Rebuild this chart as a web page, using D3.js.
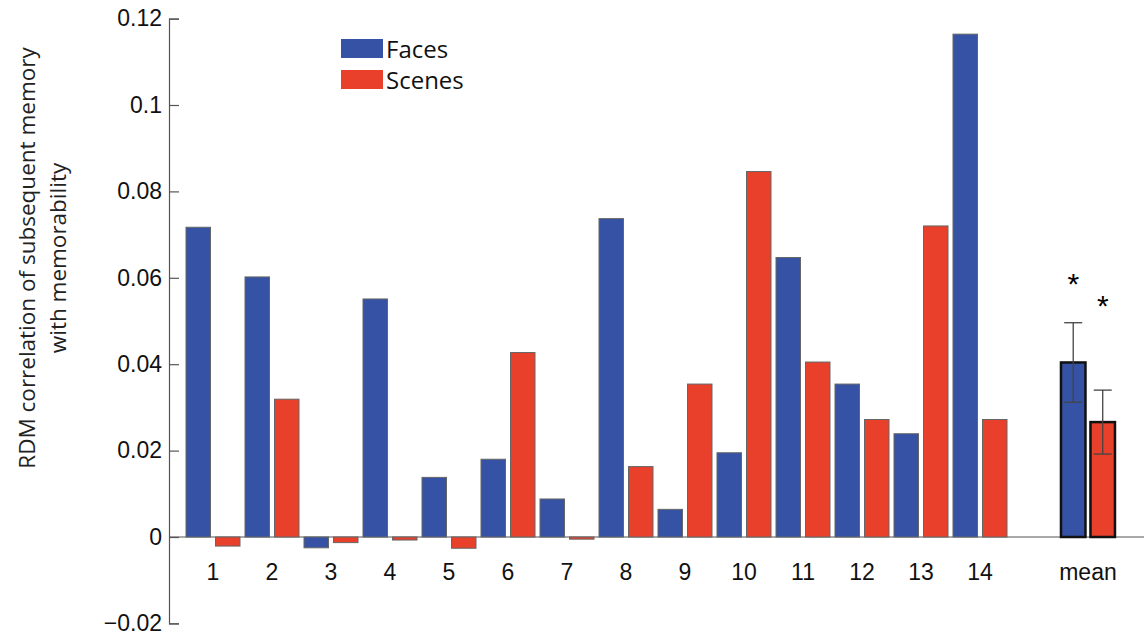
<!DOCTYPE html>
<html>
<head>
<meta charset="utf-8">
<script src="https://cdn.jsdelivr.net/npm/d3@7"></script>
<style>
  body { margin: 0; background: #fff; }
</style>
</head>
<body>
<div id="chart"></div>
<script>
// data
const categories = ["1","2","3","4","5","6","7","8","9","10","11","12","13","14"];
const faces  = [0.0717, 0.0602, -0.0025, 0.0551, 0.0138, 0.0180, 0.0088, 0.0737, 0.0064, 0.0195, 0.0647, 0.0354, 0.0239, 0.1164];
const scenes = [-0.0021, 0.0319, -0.0013, -0.0007, -0.0026, 0.0427, -0.0005, 0.0163, 0.0354, 0.0846, 0.0405, 0.0272, 0.0720, 0.0272];
const meanLabel = "mean";
const meanValues = [0.0404, 0.0266];   // faces, scenes
const meanErrors = [0.0092, 0.0074];
const starHeights = [0.0596, 0.0543];  // where the asterisks sit
const series = ["Faces", "Scenes"];
const yTicks = [-0.02, 0, 0.02, 0.04, 0.06, 0.08, 0.1, 0.12];

const width = 1144, height = 639;
const colors = ["#3552a5", "#e8402b"];
const meanGap = 0.83; // extra space before the mean group

const svg = d3.select("#chart").append("svg")
    .attr("width", width)
    .attr("height", height);

const y = d3.scaleLinear().domain([-0.02, 0.12]).range([623.4, 18.6]);
const x = d3.scaleLinear().domain([0, categories.length + meanGap]).range([213, 213 + 59 * (categories.length + meanGap)]);

const barW = 24.5;
const offs = [-14.75, 14.75];

// baseline at zero
svg.append("line")
    .attr("x1", 169).attr("x2", width)
    .attr("y1", y(0)).attr("y2", y(0))
    .attr("stroke", "#555").attr("stroke-width", 1.2);

// bars
const rows = [];
categories.forEach((c, i) => {
    rows.push({ i, s: 0, v: faces[i] });
    rows.push({ i, s: 1, v: scenes[i] });
});

svg.append("g")
    .selectAll("rect")
    .data(rows)
    .enter()
    .append("rect")
    .attr("x", d => x(d.i) + offs[d.s] - barW / 2)
    .attr("y", d => y(Math.max(0, d.v)))
    .attr("width", barW)
    .attr("height", d => Math.abs(y(d.v) - y(0)))
    .style("fill", d => colors[d.s])
    .style("stroke", "#666")
    .style("stroke-width", 1);

// mean bars
const meanPos = categories.length + meanGap;
const meanRows = meanValues.map((v, s) => ({ s, v, e: meanErrors[s], star: starHeights[s] }));

svg.append("g")
    .selectAll("rect")
    .data(meanRows)
    .enter()
    .append("rect")
    .attr("x", d => x(meanPos) + offs[d.s] - barW / 2)
    .attr("y", d => y(d.v))
    .attr("width", barW)
    .attr("height", d => y(0) - y(d.v))
    .style("fill", d => colors[d.s])
    .style("stroke", "#111")
    .style("stroke-width", 2.5);

// error bars
const err = svg.append("g").attr("stroke", "#444").attr("stroke-width", 1.3);
meanRows.forEach(d => {
    const cx = x(meanPos) + offs[d.s];
    err.append("line").attr("x1", cx).attr("x2", cx).attr("y1", y(d.v + d.e)).attr("y2", y(d.v - d.e));
    err.append("line").attr("x1", cx - 9).attr("x2", cx + 9).attr("y1", y(d.v + d.e)).attr("y2", y(d.v + d.e));
    err.append("line").attr("x1", cx - 9).attr("x2", cx + 9).attr("y1", y(d.v - d.e)).attr("y2", y(d.v - d.e));
});

// asterisks
svg.append("g")
    .selectAll("text")
    .data(meanRows)
    .enter()
    .append("text")
    .attr("x", d => x(meanPos) + offs[d.s])
    .attr("y", d => y(d.star) + 14)
    .attr("text-anchor", "middle")
    .style("font-family", "Liberation Sans, Arial, sans-serif")
    .style("font-size", "30px")
    .text("*");

// y axis
const yAxis = d3.axisRight(y).tickValues(yTicks).tickSize(10)
    .tickFormat(d => d === 0 ? "0" : d3.format("")(+d.toFixed(2)).replace("-", "\u2212"));
const gy = svg.append("g").attr("transform", "translate(169,0)").call(yAxis);
gy.select(".domain").attr("stroke", "#555").attr("stroke-width", 1.2);
gy.selectAll(".tick line").attr("stroke", "#555").attr("stroke-width", 1.2);
gy.selectAll(".tick text")
    .attr("x", -7)
    .attr("text-anchor", "end")
    .style("font-family", "Liberation Sans, Arial, sans-serif")
    .style("font-size", "23px")
    .attr("fill", "#111");

// x labels
svg.append("g")
    .selectAll("text")
    .data(categories.concat([meanLabel]))
    .enter()
    .append("text")
    .attr("x", (d, i) => x(i < categories.length ? i : meanPos))
    .attr("y", 580)
    .attr("text-anchor", "middle")
    .style("font-family", "Liberation Sans, Arial, sans-serif")
    .style("font-size", "23px")
    .attr("fill", "#111")
    .text(d => d);

// y label
const yl = svg.append("text")
    .attr("transform", "translate(27,258) rotate(-90)")
    .attr("text-anchor", "middle")
    .style("font-family", "Open Sans, sans-serif")
    .style("font-size", "22.5px")
    .attr("fill", "#222");
yl.append("tspan").attr("x", 0).attr("dy", "0.35em").text("RDM correlation of subsequent memory");
yl.append("tspan").attr("x", 0).attr("dy", 31).text("with memorability");

// legend
const lg = svg.append("g").attr("transform", "translate(341,39)");
series.forEach((s, i) => {
    lg.append("rect")
        .attr("x", 0).attr("y", i * 31)
        .attr("width", 42).attr("height", 19)
        .style("fill", colors[i]);
    lg.append("text")
        .attr("x", 45).attr("y", i * 31 + 19)
        .style("font-family", "Open Sans, sans-serif")
        .style("font-size", "24px")
        .attr("fill", "#111")
        .text(s);
});
</script>
</body>
</html>
